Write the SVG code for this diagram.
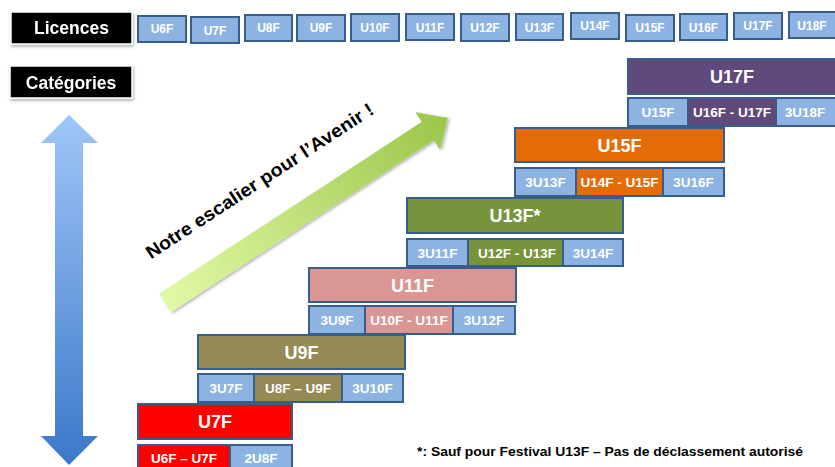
<svg xmlns="http://www.w3.org/2000/svg" width="835" height="467" viewBox="0 0 835 467">
<style>
.lic{fill:#8db3e2;stroke:#385d8a;stroke-width:2}
.cell{stroke:#385d8a;stroke-width:2}
.b{fill:#8db3e2}
.t{font-family:"Liberation Sans",Arial,sans-serif;font-weight:bold;fill:#fff;text-anchor:middle}
.s12{font-size:12px}
.s13{font-size:13.5px}
.s18{font-size:18px}
.hd{font-family:"Liberation Sans",Arial,sans-serif;font-weight:bold;fill:#fff;text-anchor:middle;font-size:17.5px}
</style>
<defs>
<linearGradient id="vg" x1="0" y1="0" x2="0" y2="1">
<stop offset="0" stop-color="#a0c6f8"/>
<stop offset="1" stop-color="#3b78c9"/>
</linearGradient>
<linearGradient id="gg" x1="0" y1="0" x2="1" y2="0">
<stop offset="0" stop-color="#e2f9a6"/>
<stop offset="1" stop-color="#9bc64a"/>
</linearGradient>
<filter id="sh" x="-10%" y="-20%" width="130%" height="150%">
<feDropShadow dx="1" dy="2" stdDeviation="1.5" flood-color="#000" flood-opacity="0.3"/>
</filter>
</defs>
<rect width="835" height="467" fill="#fff"/>

<g id="licences-label" filter="url(#sh)">
<rect x="11" y="12" width="121" height="32" fill="#000" stroke="#fff" stroke-width="1.5"/>
<text class="hd" x="71.5" y="34">Licences</text>
</g>
<g id="categories-label" filter="url(#sh)">
<rect x="10" y="66" width="122" height="32" fill="#000" stroke="#fff" stroke-width="1.5"/>
<text class="hd" x="71" y="88.5">Catégories</text>
</g>

<g id="licences">
<rect class="lic" x="138" y="16" width="48" height="26"/><text class="t s12" x="162" y="33">U6F</text>
<rect class="lic" x="191" y="17" width="48" height="26"/><text class="t s12" x="215" y="34.5">U7F</text>
<rect class="lic" x="245" y="15" width="47" height="26"/><text class="t s12" x="268.5" y="32">U8F</text>
<rect class="lic" x="297" y="15" width="48" height="26"/><text class="t s12" x="321" y="32">U9F</text>
<rect class="lic" x="351" y="14" width="48" height="27"/><text class="t s12" x="375" y="32">U10F</text>
<rect class="lic" x="406" y="14" width="48" height="26"/><text class="t s12" x="430" y="31.5">U11F</text>
<rect class="lic" x="461" y="14" width="48" height="27"/><text class="t s12" x="485" y="32">U12F</text>
<rect class="lic" x="516" y="14" width="47" height="26"/><text class="t s12" x="539.5" y="31.5">U13F</text>
<rect class="lic" x="571" y="13" width="48" height="26"/><text class="t s12" x="595" y="30">U14F</text>
<rect class="lic" x="626" y="15" width="48" height="26"/><text class="t s12" x="650" y="32">U15F</text>
<rect class="lic" x="680" y="14" width="47" height="26"/><text class="t s12" x="703.5" y="31.5">U16F</text>
<rect class="lic" x="734" y="13" width="48" height="26"/><text class="t s12" x="758" y="30">U17F</text>
<rect class="lic" x="789" y="12" width="48" height="26"/><text class="t s12" x="812" y="29.5">U18F</text>
</g>

<g id="vertical-arrow">
<polygon points="69,115 98,143 83,143 83,436 98,436 69,465 41,436 55,436 55,143 41,143" fill="url(#vg)"/>
</g>

<g id="avenir-arrow" transform="translate(165,303) rotate(-33.2)">
<polygon points="0,-11 314,-11 314,-22.5 338,0 314,22.5 314,11 0,11" fill="url(#gg)" filter="url(#sh)"/>
<text x="12" y="-44" font-family="'Liberation Sans',Arial,sans-serif" font-weight="bold" font-size="18.5" fill="#000" textLength="268" lengthAdjust="spacingAndGlyphs">Notre escalier pour l’Avenir !</text>
</g>

<g id="u7f">
<rect class="cell" x="138" y="404" width="154" height="35" fill="#ff0000"/>
<text class="t s18" x="215" y="428">U7F</text>
<rect class="cell" x="138" y="445" width="92" height="26" fill="#ff0000"/>
<text class="t s13" x="184" y="463">U6F – U7F</text>
<rect class="cell b" x="230" y="445" width="62" height="26"/>
<text class="t s13" x="261" y="463">2U8F</text>
</g>

<g id="u9f">
<rect class="cell" x="198" y="335" width="207" height="34" fill="#948a54"/>
<text class="t s18" x="301.5" y="359">U9F</text>
<rect class="cell b" x="198" y="374" width="56" height="28"/>
<text class="t s13" x="226" y="393">3U7F</text>
<rect class="cell" x="254" y="374" width="88" height="28" fill="#948a54"/>
<text class="t s13" x="298" y="393">U8F – U9F</text>
<rect class="cell b" x="342" y="374" width="61" height="28"/>
<text class="t s13" x="372.5" y="393">3U10F</text>
</g>

<g id="u11f">
<rect class="cell" x="309" y="268" width="207" height="34" fill="#d99694"/>
<text class="t s18" x="412.5" y="292">U11F</text>
<rect class="cell b" x="309" y="306" width="56" height="28"/>
<text class="t s13" x="337" y="325">3U9F</text>
<rect class="cell" x="365" y="306" width="88" height="28" fill="#d99694"/>
<text class="t s13" x="409" y="325">U10F - U11F</text>
<rect class="cell b" x="453" y="306" width="62" height="28"/>
<text class="t s13" x="484" y="325">3U12F</text>
</g>

<g id="u13f">
<rect class="cell" x="407" y="198" width="216" height="35" fill="#77933c"/>
<text class="t s18" x="515" y="222">U13F*</text>
<rect class="cell b" x="407" y="239" width="61" height="27"/>
<text class="t s13" x="437.5" y="257.5">3U11F</text>
<rect class="cell" x="468" y="239" width="95" height="27" fill="#77933c"/>
<text class="t s13" x="517" y="257.5">U12F - U13F</text>
<rect class="cell b" x="563" y="239" width="60" height="27"/>
<text class="t s13" x="593" y="257.5">3U14F</text>
</g>

<g id="u15f">
<rect class="cell" x="515" y="128" width="209" height="34" fill="#e36c09"/>
<text class="t s18" x="619.5" y="152">U15F</text>
<rect class="cell b" x="515" y="168" width="61" height="28"/>
<text class="t s13" x="545.5" y="187">3U13F</text>
<rect class="cell" x="576" y="168" width="87" height="28" fill="#e36c09"/>
<text class="t s13" x="619.5" y="187">U14F - U15F</text>
<rect class="cell b" x="663" y="168" width="61" height="28"/>
<text class="t s13" x="693.5" y="187">3U16F</text>
</g>

<g id="u17f">
<rect class="cell" x="628" y="59" width="212" height="35" fill="#604a7b"/>
<text class="t s18" x="732" y="83">U17F</text>
<rect class="cell b" x="628" y="98" width="60" height="28"/>
<text class="t s13" x="658" y="117">U15F</text>
<rect class="cell" x="688" y="98" width="88" height="28" fill="#604a7b"/>
<text class="t s13" x="732" y="117">U16F - U17F</text>
<rect class="cell b" x="776" y="98" width="64" height="28"/>
<text class="t s13" x="805" y="117">3U18F</text>
</g>

<g id="connectors"></g>

<text x="417" y="456" font-family="'Liberation Sans',Arial,sans-serif" font-weight="bold" font-size="13.5" fill="#000" textLength="386" lengthAdjust="spacingAndGlyphs">*: Sauf pour Festival U13F – Pas de déclassement autorisé</text>
</svg>
